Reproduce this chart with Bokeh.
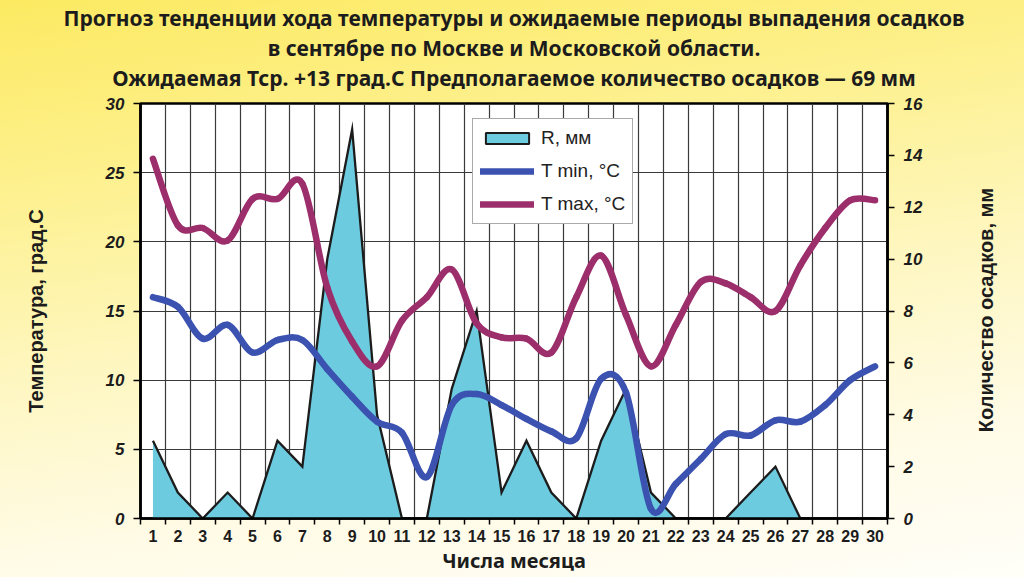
import math
from bokeh.plotting import figure
from bokeh.models import (Range1d, LinearAxis, FixedTicker, Title, Legend,
                          LegendItem, ColumnDataSource)
from bokeh.embed import file_html
from bokeh.resources import INLINE

# ---------------- data ----------------
days = list(range(1, 31))
rain_mm = [3, 1, 0, 1, 0, 3, 2, 10, 15, 4, 0, 0, 5, 8, 1,
           3, 1, 0, 3, 5, 1, 0, 0, 0, 1, 2, 0, 0, 0, 0]
t_min = [16.0, 15.3, 13.0, 14.0, 12.0, 12.9, 12.9, 10.8, 8.8, 7.0,
         6.2, 3.0, 8.2, 9.0, 8.2, 7.2, 6.3, 5.8, 10.1, 9.1,
         0.7, 2.5, 4.3, 6.1, 6.0, 7.1, 7.0, 8.2, 10.0, 11.0]
t_max = [26.0, 21.2, 21.0, 20.1, 23.1, 23.1, 24.2, 16.7, 12.8, 11.0,
         14.3, 16.0, 18.0, 14.1, 13.1, 13.0, 12.0, 16.0, 19.0, 14.7,
         11.0, 14.0, 17.1, 17.0, 16.0, 15.0, 18.3, 21.0, 23.0, 23.0]
temp_ticks = [0, 5, 10, 15, 20, 25, 30]
rain_ticks = [0, 2, 4, 6, 8, 10, 12, 14, 16]
day_bounds = [d - 0.5 for d in days] + [days[-1] + 0.5]

title_lines = [
    "Прогноз тенденции хода температуры и ожидаемые периоды выпадения осадков",
    "в сентябре по Москве и Московской области.",
    "Ожидаемая Тср. +13 град.С Предполагаемое количество осадков — 69 мм",
]
x_title = "Числа месяца"
y_left_title = "Температура, град.С"
y_right_title = "Количество осадков, мм"
legend_labels = ["R, мм", "T min, °C", "T max, °C"]

# ---------------- styles ----------------
C_RAIN = "#6ccbdf"
C_TMIN = "#3b52b0"
C_TMAX = "#9c2e6c"
C_INK = "#1c1c1c"
AX_FONT = "Liberation Sans"
TITLE_FONT = "Noto Sans"
RIGHT_TITLE_START = 3.33   # where the rotated right-hand title begins (mm scale)


def smooth_segments(xs, ys):
    """Excel-like smoothed line: Bezier control points from neighbouring values."""
    n = len(xs)
    out = dict(x0=[], y0=[], x1=[], y1=[], cx0=[], cy0=[], cx1=[], cy1=[])
    for i in range(n - 1):
        xa, ya = (xs[i - 1], ys[i - 1]) if i > 0 else (xs[i], ys[i])
        xb, yb = xs[i], ys[i]
        xc, yc = xs[i + 1], ys[i + 1]
        xd, yd = (xs[i + 2], ys[i + 2]) if i + 2 < n else (xs[i + 1], ys[i + 1])
        out["x0"].append(xb); out["y0"].append(yb)
        out["x1"].append(xc); out["y1"].append(yc)
        out["cx0"].append(xb + (xc - xa) / 6.0); out["cy0"].append(yb + (yc - ya) / 6.0)
        out["cx1"].append(xc - (xd - xb) / 6.0); out["cy1"].append(yc - (yd - yb) / 6.0)
    return ColumnDataSource(out)


p = figure(width=1024, height=577, output_backend="svg", toolbar_location=None,
           x_range=Range1d(0.5, 30.5), y_range=Range1d(0, 30),
           min_border_left=140, min_border_right=137,
           min_border_top=103, min_border_bottom=59)
p.extra_y_ranges = {"rain": Range1d(0, 16)}

p.background_fill_color = "white"
p.border_fill_color = None
p.styles = {"background": "linear-gradient(172deg, #fcea62 0%, #fdf08c 25%, #fef7c4 55%, #fffbe6 78%, #fffef8 100%)"}
p.outline_line_color = "black"
p.outline_line_width = 2.5

# title: a small spacer next to the frame, then the three lines stacked upward
p.add_layout(Title(text=" ", text_font_size="2px", standoff=8), "above")
for txt in reversed(title_lines):
    p.add_layout(Title(text=txt, align="center", text_font=TITLE_FONT,
                       text_font_style="bold", text_font_size="21px",
                       text_color=C_INK, standoff=0), "above")

# grid
p.xgrid.ticker = FixedTicker(ticks=day_bounds)
p.ygrid.ticker = FixedTicker(ticks=temp_ticks)
for g in (p.xgrid, p.ygrid):
    g.grid_line_color = "#3a3a3a"
    g.grid_line_width = 1.2

# x axis
xa = p.xaxis[0]
xa.ticker = FixedTicker(ticks=days, minor_ticks=day_bounds)
xa.major_label_overrides = {d: str(d) for d in days}
xa.major_tick_line_color = None
xa.major_tick_in = 0
xa.major_tick_out = 0
xa.minor_tick_in = 0
xa.minor_tick_out = 6
xa.minor_tick_line_color = "black"
xa.minor_tick_line_width = 1.5
xa.axis_line_width = 2.5
xa.major_label_standoff = 5
xa.major_label_text_font = AX_FONT
xa.major_label_text_font_style = "bold"
xa.major_label_text_font_size = "16px"
xa.major_label_text_color = C_INK
xa.axis_label = x_title
xa.axis_label_standoff = 2
xa.axis_label_text_font = TITLE_FONT
xa.axis_label_text_font_style = "bold"
xa.axis_label_text_font_size = "20px"
xa.axis_label_text_color = C_INK

# left axis
ya = p.yaxis[0]
ya.ticker = FixedTicker(ticks=temp_ticks)
ya.axis_label = y_left_title
ya.axis_label_standoff = 56
ya.axis_label_text_font = AX_FONT
ya.axis_label_text_font_style = "bold"
ya.axis_label_text_font_size = "20px"
ya.axis_label_text_color = C_INK

# right axis (mm)
yr = LinearAxis(y_range_name="rain", ticker=FixedTicker(ticks=rain_ticks))
p.add_layout(yr, "right")
for ax in (ya, yr):
    ax.axis_line_width = 2.5
    ax.major_tick_line_width = 1.5
    ax.major_tick_in = 0
    ax.major_tick_out = 7
    ax.minor_tick_line_color = None
    ax.major_label_standoff = 9
    ax.major_label_text_font = AX_FONT
    ax.major_label_text_font_style = "bold italic"
    ax.major_label_text_font_size = "17px"
    ax.major_label_text_color = C_INK

# right-hand title, reading bottom-to-top, carried by an otherwise empty axis
yr_title = LinearAxis(y_range_name="rain",
                      ticker=FixedTicker(ticks=[RIGHT_TITLE_START], minor_ticks=[]))
yr_title.major_label_overrides = {RIGHT_TITLE_START: y_right_title}
yr_title.major_label_orientation = math.pi / 2
yr_title.axis_line_color = None
yr_title.major_tick_line_color = None
yr_title.minor_tick_line_color = None
yr_title.major_tick_in = 0
yr_title.major_tick_out = 0
yr_title.minor_tick_in = 0
yr_title.minor_tick_out = 0
yr_title.major_label_standoff = 61
yr_title.major_label_text_font = AX_FONT
yr_title.major_label_text_font_style = "bold"
yr_title.major_label_text_font_size = "20px"
yr_title.major_label_text_color = C_INK
p.add_layout(yr_title, "right")

# precipitation area
src_r = ColumnDataSource(dict(x=days, y=rain_mm))
p.varea(x="x", y1=0, y2="y", source=src_r, y_range_name="rain",
        fill_color=C_RAIN)
p.line("x", "y", source=src_r, y_range_name="rain", line_color=C_INK,
       line_width=2.3, line_join="miter")
r_leg = p.patch("x", "y", source=src_r, y_range_name="rain", fill_color=C_RAIN,
                line_color=C_INK, line_width=2, visible=False)

# temperature curves
r_min = p.bezier(x0="x0", y0="y0", x1="x1", y1="y1", cx0="cx0", cy0="cy0",
                 cx1="cx1", cy1="cy1", source=smooth_segments(days, t_min),
                 line_color=C_TMIN, line_width=6.5, line_cap="round")
r_max = p.bezier(x0="x0", y0="y0", x1="x1", y1="y1", cx0="cx0", cy0="cy0",
                 cx1="cx1", cy1="cy1", source=smooth_segments(days, t_max),
                 line_color=C_TMAX, line_width=6.5, line_cap="round")

legend = Legend(items=[LegendItem(label=legend_labels[0], renderers=[r_leg]),
                       LegendItem(label=legend_labels[1], renderers=[r_min]),
                       LegendItem(label=legend_labels[2], renderers=[r_max])],
                location=(332, 294))
legend.border_line_color = "#555555"
legend.border_line_width = 1.2
legend.background_fill_color = "white"
legend.background_fill_alpha = 1.0
legend.label_text_font = AX_FONT
legend.label_text_font_size = "19px"
legend.label_text_color = "#222222"
legend.glyph_width = 54
legend.glyph_height = 14
legend.label_height = 24
legend.spacing = 9
legend.padding = 7
legend.margin = 0
legend.label_standoff = 7
p.add_layout(legend)

open("out.html", "w").write(file_html(p, INLINE))
